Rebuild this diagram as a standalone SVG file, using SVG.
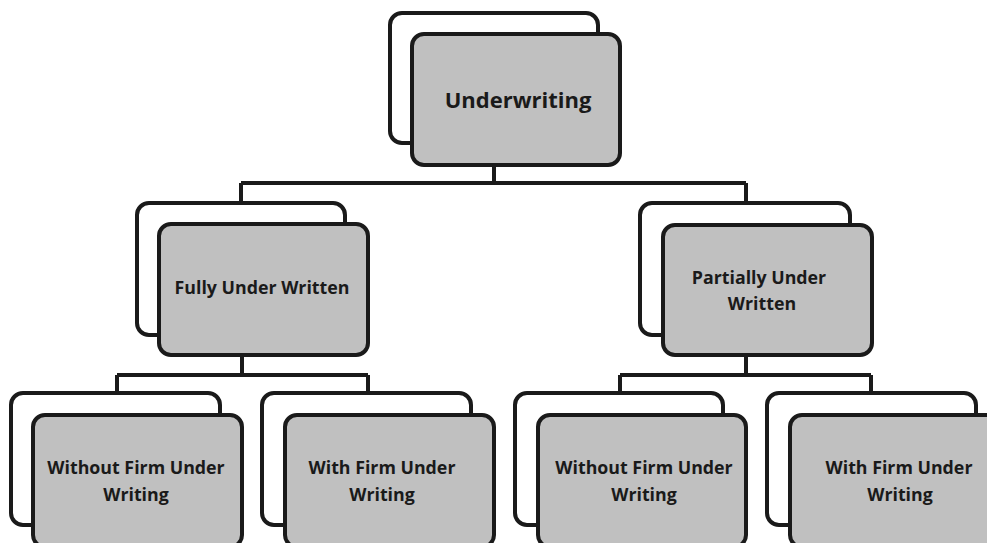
<svg xmlns="http://www.w3.org/2000/svg" width="987" height="543" viewBox="0 0 987 543">
<style>
.back{fill:#ffffff;stroke:#1a1a1a;stroke-width:4}
.front{fill:#c0c0c0;stroke:#1a1a1a;stroke-width:4}
.conn{fill:none;stroke:#1a1a1a;stroke-width:4}
text{font-family:"Open Sans","Liberation Sans",sans-serif;font-weight:700;fill:#1a1a1a;text-anchor:middle}
.t1{font-size:22px}
.t2{font-size:17.8px}
</style>
<rect width="987" height="543" fill="#ffffff"/>
<g id="connectors">
<path class="conn" d="M494 165V183M241 183H746M241 183V203M746 183V203"/>
<path class="conn" d="M242 355V375M117 375H368M117 375V393M368 375V393"/>
<path class="conn" d="M746 355V375M620 375H871M620 375V393M871 375V393"/>
</g>
<g id="underwriting">
<rect class="back" x="390" y="13" width="208" height="130" rx="12"/>
<rect class="front" x="412" y="34" width="208" height="131" rx="12"/>
<text class="t1" x="518" y="108">Underwriting</text>
</g>
<g id="fully">
<rect class="back" x="137" y="203" width="208" height="132" rx="12"/>
<rect class="front" x="159" y="224" width="209" height="131" rx="12"/>
<text class="t2" x="262" y="294">Fully Under Written</text>
</g>
<g id="partially">
<rect class="back" x="640" y="203" width="210" height="132" rx="12"/>
<rect class="front" x="663" y="225" width="209" height="130" rx="12"/>
<text class="t2" x="759" y="284">Partially Under</text>
<text class="t2" x="762" y="310">Written</text>
</g>
<g id="without1">
<rect class="back" x="11" y="393" width="209" height="132" rx="12"/>
<rect class="front" x="33" y="415" width="209" height="132" rx="12"/>
<text class="t2" x="136" y="474">Without Firm Under</text>
<text class="t2" x="136" y="501">Writing</text>
</g>
<g id="with1">
<rect class="back" x="262" y="393" width="209" height="132" rx="12"/>
<rect class="front" x="285" y="415" width="209" height="132" rx="12"/>
<text class="t2" x="382" y="474">With Firm Under</text>
<text class="t2" x="382" y="501">Writing</text>
</g>
<g id="without2">
<rect class="back" x="515" y="393" width="208" height="132" rx="12"/>
<rect class="front" x="538" y="415" width="208" height="132" rx="12"/>
<text class="t2" x="644" y="474">Without Firm Under</text>
<text class="t2" x="644" y="501">Writing</text>
</g>
<g id="with2">
<rect class="back" x="767" y="393" width="209" height="132" rx="12"/>
<rect class="front" x="790" y="415" width="209" height="132" rx="12"/>
<text class="t2" x="899" y="474">With Firm Under</text>
<text class="t2" x="900" y="501">Writing</text>
</g>
</svg>
